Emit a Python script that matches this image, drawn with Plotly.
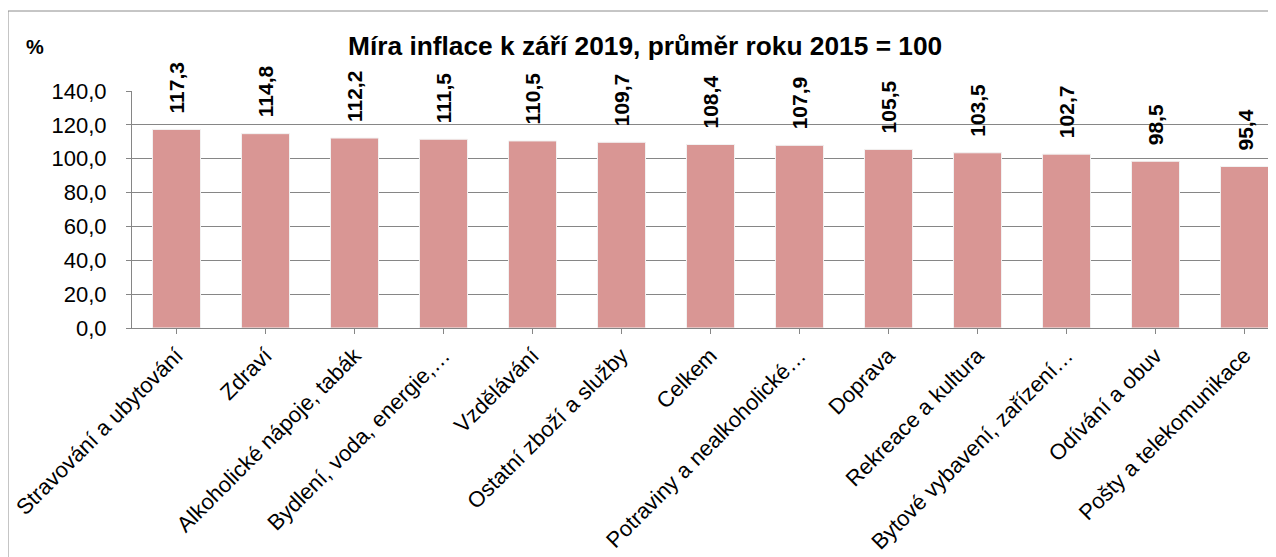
import plotly.graph_objects as go

# data
kategorie = [
    "Stravování a ubytování",
    "Zdraví",
    "Alkoholické nápoje, tabák",
    "Bydlení, voda, energie,…",
    "Vzdělávání",
    "Ostatní zboží a služby",
    "Celkem",
    "Potraviny a nealkoholické…",
    "Doprava",
    "Rekreace a kultura",
    "Bytové vybavení, zařízení…",
    "Odívání a obuv",
    "Pošty a telekomunikace",
]
hodnoty = [117.3, 114.8, 112.2, 111.5, 110.5, 109.7, 108.4, 107.9, 105.5, 103.5, 102.7, 98.5, 95.4]
y_ticks = [0, 20, 40, 60, 80, 100, 120, 140]

FONT = "Liberation Sans, Arial, sans-serif"
BARVA = "#D99694"
SEDA = "#868686"

# stranka ma okraj 8 px, pozice jsou v pixelech obrazovky
OFF = 8
W, H = 1276, 557
ml, mr, mt, mb = 132 - OFF, 0, 91 - OFF, H - (328 - OFF)
pw, ph = W - ml - mr, H - mt - mb


def px_x(p):
    return (p - OFF - ml) / pw


def px_y(p):
    return (H - mb - (p - OFF)) / ph


fig = go.Figure()
fig.add_trace(go.Bar(
    x=list(range(len(kategorie))),
    y=hodnoty,
    width=0.54,
    marker=dict(color=BARVA, line=dict(color="#F2F2F2", width=1)),
    hoverinfo="skip",
))

# popisky hodnot nad sloupci (svisle)
for i, v in enumerate(hodnoty):
    fig.add_annotation(
        x=i, y=v, xref="x", yref="y",
        text="<b>" + f"{v:.1f}".replace(".", ",") + "</b>",
        textangle=-90, showarrow=False,
        yanchor="bottom", xanchor="center", yshift=14,
        font=dict(family=FONT, size=21, color="black"),
    )

fig.add_annotation(
    x=px_x(645), y=px_y(46), xref="paper", yref="paper",
    text="<b>Míra inflace k září 2019, průměr roku 2015 = 100</b>",
    showarrow=False, xanchor="center", yanchor="middle",
    font=dict(family=FONT, size=26.3, color="black"),
)
fig.add_annotation(
    x=px_x(24), y=px_y(47), xref="paper", yref="paper",
    text="<b>%</b>", showarrow=False, xanchor="left", yanchor="middle",
    font=dict(family=FONT, size=20, color="black"),
)

# ramecek grafu
fig.add_shape(
    type="rect", xref="paper", yref="paper",
    x0=px_x(8), x1=px_x(1300), y0=px_y(11), y1=px_y(580),
    line=dict(color="#8C8C8C", width=1), fillcolor="rgba(0,0,0,0)", layer="below",
)

fig.update_layout(
    width=W, height=H,
    margin=dict(l=ml, r=mr, t=mt, b=mb),
    paper_bgcolor="white", plot_bgcolor="white",
    separators=", ",
    showlegend=False,
    font=dict(family=FONT, size=22, color="black"),
    xaxis=dict(
        tickmode="array",
        tickvals=list(range(len(kategorie))),
        ticktext=kategorie,
        tickangle=-45,
        ticklabeloverflow="allow",
        range=[-0.5, -0.5 + pw / 89.0],
        showgrid=False,
        showline=True, linecolor=SEDA, linewidth=1,
        ticks="outside", tickson="boundaries", ticklen=5, tickcolor=SEDA,
        tickfont=dict(family=FONT, size=22, color="black"),
        zeroline=False,
    ),
    yaxis=dict(
        range=[0, 140],
        tickvals=y_ticks,
        tickformat=".1f",
        showgrid=True, gridcolor=SEDA, gridwidth=1,
        showline=True, linecolor=SEDA, linewidth=1,
        ticks="outside", ticklen=5, tickcolor=SEDA,
        ticklabelstandoff=15,
        tickfont=dict(family=FONT, size=22, color="black"),
        zeroline=False,
    ),
)

fig.write_html("out.html")
